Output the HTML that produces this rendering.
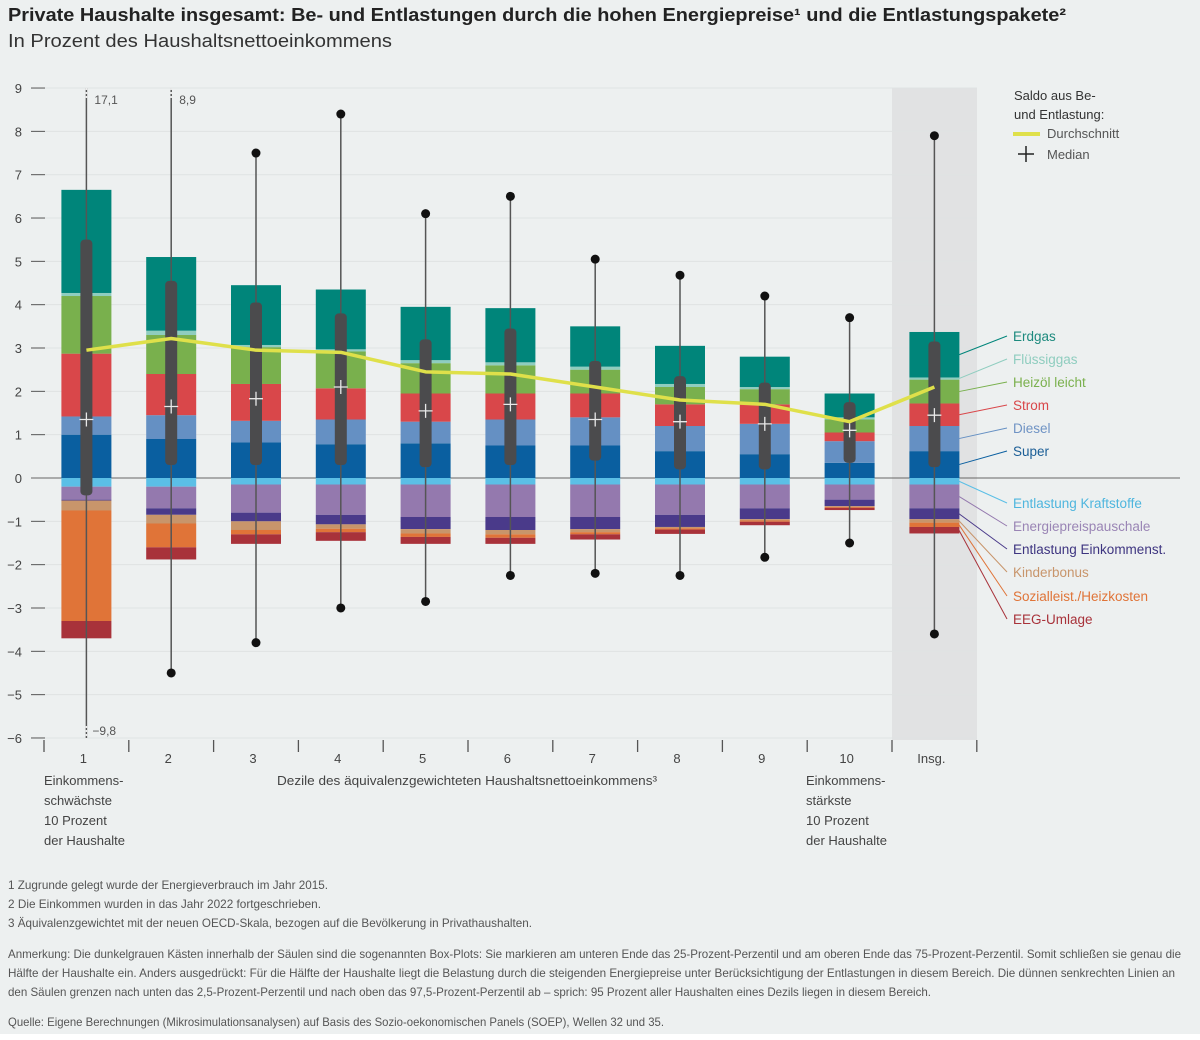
<!DOCTYPE html>
<html><head><meta charset="utf-8">
<style>
html,body{margin:0;padding:0;background:#fff}
#wrap{position:relative;width:1200px;height:1040px;background:#fff;font-family:"Liberation Sans",sans-serif}
svg{position:absolute;left:0;top:0}
svg text{font-family:"Liberation Sans",sans-serif}
</style></head>
<body>
<div id="wrap">
<svg id="chart" width="1200" height="1040" viewBox="0 0 1200 1040">
<rect x="0" y="0" width="1200" height="1034" fill="#edf0f0"/>
<text x="8" y="21" font-size="18" font-weight="bold" fill="#222" textLength="1058" lengthAdjust="spacingAndGlyphs">Private Haushalte insgesamt: Be- und Entlastungen durch die hohen Energiepreise¹ und die Entlastungspakete²</text>
<text x="8" y="47" font-size="18" fill="#333" textLength="384" lengthAdjust="spacingAndGlyphs">In Prozent des Haushaltsnettoeinkommens</text>
<g id="plot"></g>
</svg>
</div>
<script>
const categories = ["1","2","3","4","5","6","7","8","9","10","Insg."];
const seriesNames = ["Super","Diesel","Strom","Heizöl leicht","Flüssiggas","Erdgas"];
const negNames = ["Entlastung Kraftstoffe","Energiepreispauschale","Entlastung Einkommenst.","Kinderbonus","Sozialleist./Heizkosten","EEG-Umlage"];
const super_ = [1.0,0.9,0.82,0.78,0.8,0.75,0.75,0.62,0.55,0.35,0.62];
const diesel = [0.42,0.55,0.5,0.57,0.5,0.6,0.65,0.58,0.7,0.5,0.58];
const strom = [1.45,0.95,0.85,0.72,0.65,0.6,0.55,0.5,0.45,0.2,0.52];
const heizoel = [1.33,0.9,0.85,0.85,0.7,0.65,0.55,0.4,0.35,0.3,0.55];
const fluessiggas = [0.07,0.1,0.05,0.05,0.07,0.07,0.07,0.07,0.05,0.05,0.05];
const erdgas = [2.38,1.7,1.38,1.38,1.23,1.25,0.93,0.88,0.7,0.55,1.05];
const kraftstoffe = [-0.2,-0.2,-0.15,-0.15,-0.15,-0.15,-0.15,-0.15,-0.15,-0.15,-0.15];
const energiepauschale = [-0.3,-0.5,-0.65,-0.7,-0.75,-0.75,-0.75,-0.7,-0.55,-0.35,-0.55];
const einkommenst = [-0.02,-0.15,-0.2,-0.22,-0.28,-0.3,-0.28,-0.28,-0.25,-0.15,-0.25];
const kinderbonus = [-0.23,-0.2,-0.2,-0.1,-0.1,-0.1,-0.07,-0.03,-0.03,-0.02,-0.08];
const sozial = [-2.55,-0.55,-0.1,-0.08,-0.08,-0.08,-0.05,-0.03,-0.03,-0.02,-0.1];
const eeg = [-0.4,-0.28,-0.22,-0.2,-0.16,-0.14,-0.12,-0.1,-0.08,-0.05,-0.15];
const mean = [2.95,3.22,2.95,2.9,2.45,2.4,2.1,1.8,1.7,1.3,2.1];
const median = [1.35,1.65,1.83,2.1,1.55,1.7,1.35,1.3,1.25,1.1,1.45];
const q1 = [-0.4,0.3,0.3,0.3,0.25,0.3,0.4,0.2,0.2,0.35,0.25];
const q3 = [5.5,4.55,4.05,3.8,3.2,3.45,2.7,2.35,2.2,1.75,3.15];
const pLow = [-9.8,-4.5,-3.8,-3.0,-2.85,-2.25,-2.2,-2.25,-1.83,-1.5,-3.6];
const pHigh = [17.1,8.9,7.5,8.4,6.1,6.5,5.05,4.68,4.2,3.7,7.9];
const yTicks = [9,8,7,6,5,4,3,2,1,0,-1,-2,-3,-4,-5,-6];

const posColors = ["#0a5fa0","#6590c3","#d9474a","#79b04d","#8fcdbf","#00857a"];
const negColors = ["#5bbfe6","#9479ae","#4a3a8a","#c8956b","#e07438","#a8323a"];
const NS="http://www.w3.org/2000/svg";
const plot=document.getElementById('plot');
const Y0=478, SC=43.33, YMIN=-6, YMAX=9, CLIP_HIGH=8.8;
function y(v){return Y0 - SC*Math.max(YMIN,Math.min(YMAX,v));}
function x(i){return 86.4+84.8*i;}
function mk(tag,attrs,parent){const e=document.createElementNS(NS,tag);for(const k in attrs)e.setAttribute(k,attrs[k]);(parent||plot).appendChild(e);return e;}

let sh=mk('rect',{x:892,y:88,width:85,height:652,fill:'#e1e2e3'});


yTicks.forEach(t=>{
  const g=mk('line',{x1:45,x2:977,y1:y(t),y2:y(t),stroke:'#dfe3e3','stroke-width':1});
  
  
  const tk=mk('line',{x1:31,x2:45,y1:y(t),y2:y(t),stroke:'#555','stroke-width':1});
  
  
  const lb=mk('text',{x:22,y:y(t)+5,'font-size':13,fill:'#444','text-anchor':'end'});
  lb.textContent=(t<0?'−'+(-t):String(t));
  
  
});
let zl=mk('line',{x1:31,x2:1180,y1:Y0,y2:Y0,stroke:'#666','stroke-width':1});


for(let i=0;i<=categories.length;i++){
  const sx=x(i)-42.4;
  const l=mk('line',{x1:sx,x2:sx,y1:740,y2:752,stroke:'#555','stroke-width':1.3});
  
  
}
categories.forEach((c,i)=>{
  const t=mk('text',{x:x(i)-3,y:763,'font-size':13,fill:'#444','text-anchor':'middle'});
  t.textContent=c;
  
  
});
const pos=[super_,diesel,strom,heizoel,fluessiggas,erdgas];
const neg=[kraftstoffe,energiepauschale,einkommenst,kinderbonus,sozial,eeg];
const BW=50;
categories.forEach((c,i)=>{
  let acc=0;
  pos.forEach((s,k)=>{
    const r=mk('rect',{x:x(i)-BW/2,y:y(acc+s[i]),width:BW,height:y(acc)-y(acc+s[i]),fill:posColors[k]});
    
    
    acc+=s[i];
  });
  acc=0;
  neg.forEach((s,k)=>{
    const r=mk('rect',{x:x(i)-BW/2,y:y(acc),width:BW,height:y(acc+s[i])-y(acc),fill:negColors[k]});
    
    
    acc+=s[i];
  });
});
categories.forEach((c,i)=>{
  const cx=x(i);
  const over=pHigh[i]>CLIP_HIGH;
  const topY=over?y(YMAX):y(pHigh[i]);
  const w=mk('line',{x1:cx,x2:cx,y1:topY,y2:y(pLow[i]),stroke:'#555','stroke-width':1.5});
  
  
  if(!over){const d=mk('circle',{cx:cx,cy:y(pHigh[i]),r:4.5,fill:'#111'});
    
    }
  else{const t=mk('text',{x:cx+8,y:104,'font-size':12,fill:'#555'});t.textContent=String(pHigh[i]).replace('.',',');
    
    
    const dl=mk('line',{x1:cx,x2:cx,y1:88,y2:100,stroke:'#eee','stroke-width':1.5,'stroke-dasharray':'2,2'});
    
    }
  if(pLow[i]>=YMIN){const d=mk('circle',{cx:cx,cy:y(pLow[i]),r:4.5,fill:'#111'});
    
    }
  else{const t=mk('text',{x:cx+6,y:735,'font-size':12,fill:'#555'});t.textContent='−'+String(-pLow[i]).replace('.',',');
    
    
    const dl=mk('line',{x1:cx,x2:cx,y1:y(pLow[i])-12,y2:740,stroke:'#eee','stroke-width':1.5,'stroke-dasharray':'2,2'});
    
    }
  const b=mk('rect',{x:cx-6,y:y(q3[i]),width:12,height:y(q1[i])-y(q3[i]),rx:4,fill:'#4b4b4d'});
  
  
  const my=y(median[i]);
  const m=mk('path',{d:`M${cx-7} ${my}H${cx+7}M${cx} ${my-7}V${my+7}`,stroke:'#e8e8e8','stroke-width':1.3,fill:'none'});
  
  
});
let d='';mean.forEach((v,i)=>{d+=(i?'L':'M')+x(i)+' '+y(v);});
let ml=mk('path',{d:d,stroke:'#dfe04a','stroke-width':3.5,fill:'none','stroke-linejoin':'round'});



const lg=mk('g',{});


[['Saldo aus Be-',100],['und Entlastung:',119]].forEach(([t,yy])=>{const e=mk('text',{x:1014,y:yy,'font-size':13,fill:'#333'},lg);e.textContent=t;
  
  });
let l1=mk('line',{x1:1013,x2:1040,y1:134,y2:134,stroke:'#dfe04a','stroke-width':4},lg);


let t1=mk('text',{x:1047,y:138,'font-size':13,fill:'#555'},lg);t1.textContent='Durchschnitt';


let p1=mk('path',{d:'M1018 154H1034M1026 146V162',stroke:'#222','stroke-width':1.5},lg);


let t2=mk('text',{x:1047,y:159,'font-size':13,fill:'#555'},lg);t2.textContent='Median';



const last=categories.length-1;
const posLabelY=[341,364,387,410,433,456];
const posText=["#1d8a7e","#8fcdbf","#7ab04d","#d9474a","#6f93c4","#1b5e96"];
const order=[5,4,3,2,1,0];
let acc=[0];pos.forEach((s,k)=>acc.push(acc[k]+s[last]));
order.forEach((k,j)=>{
  const mid=y((acc[k]+acc[k+1])/2);
  const ln=mk('line',{x1:959,y1:mid,x2:1007,y2:posLabelY[j]-5,stroke:posColors[k],'stroke-width':1});
  
  
  const t=mk('text',{x:1013,y:posLabelY[j],'font-size':13.5,fill:posText[j]});
  t.textContent=seriesNames[k];
  
  
});
const negLabelY=[508,531,554,577,601,624];
const negText=["#4fb6de","#9a85b5","#3e3580","#c8956b","#e07438","#a8323a"];
let nacc=[0];neg.forEach((s,k)=>nacc.push(nacc[k]+s[last]));
neg.forEach((s,k)=>{
  const mid=y((nacc[k]+nacc[k+1])/2);
  const ln=mk('line',{x1:959,y1:mid,x2:1007,y2:negLabelY[k]-5,stroke:negColors[k],'stroke-width':1});
  
  
  const t=mk('text',{x:1013,y:negLabelY[k],'font-size':13.5,fill:negText[k]});
  t.textContent=negNames[k];
  
  
});

const ann=[["Einkommens-",44,785],["schwächste",44,805],["10 Prozent",44,825],["der Haushalte",44,845],
 ["Einkommens-",806,785],["stärkste",806,805],["10 Prozent",806,825],["der Haushalte",806,845]];
ann.forEach(a=>{const t=mk('text',{x:a[1],y:a[2],'font-size':13,fill:'#444'});t.textContent=a[0];
  
  });
let xt=mk('text',{x:277,y:785,'font-size':13,fill:'#444',textLength:380,lengthAdjust:'spacingAndGlyphs'});
xt.textContent='Dezile des äquivalenzgewichteten Haushaltsnettoeinkommens³';



const notes=[["1  Zugrunde gelegt wurde der Energieverbrauch im Jahr 2015.",889,320],
["2  Die Einkommen wurden in das Jahr 2022 fortgeschrieben.",908,313],
["3  Äquivalenzgewichtet mit der neuen OECD-Skala, bezogen auf die Bevölkerung in Privathaushalten.",927,524],
["Anmerkung: Die dunkelgrauen Kästen innerhalb der Säulen sind die sogenannten Box-Plots: Sie markieren am unteren Ende das 25-Prozent-Perzentil und am oberen Ende das 75-Prozent-Perzentil. Somit schließen sie genau die",958,1173],
["Hälfte der Haushalte ein. Anders ausgedrückt: Für die Hälfte der Haushalte liegt die Belastung durch die steigenden Energiepreise unter Berücksichtigung der Entlastungen in diesem Bereich. Die dünnen senkrechten Linien an",977,1167],
["den Säulen grenzen nach unten das 2,5-Prozent-Perzentil und nach oben das 97,5-Prozent-Perzentil ab – sprich: 95 Prozent aller Haushalten eines Dezils liegen in diesem Bereich.",996,923],
["Quelle: Eigene Berechnungen (Mikrosimulationsanalysen) auf Basis des Sozio-oekonomischen Panels (SOEP), Wellen 32 und 35.",1026,656]];
notes.forEach(n=>{const t=mk('text',{x:8,y:n[1],'font-size':12,fill:'#555',textLength:n[2],lengthAdjust:'spacingAndGlyphs'});t.textContent=n[0];
  
  });
</script>
</body></html>
